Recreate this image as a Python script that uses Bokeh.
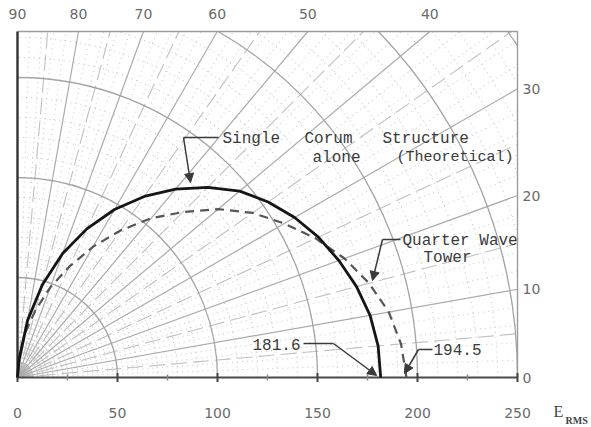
import numpy as np
from bokeh.plotting import figure
from bokeh.models import ColumnDataSource, LabelSet, Label, Arrow, NormalHead, Range1d
from bokeh.embed import file_html
from bokeh.resources import INLINE
from bokeh.core.properties import value

# ---- data (elevation angle in degrees, field E_RMS) ----
angles_deg = [0, 5, 10, 15, 20, 25, 30, 35, 40, 45, 50, 55, 60, 65, 70, 75, 80, 85, 90]
single_corum = [181.6, 181.0, 179.0, 175.5, 171.0, 166.0, 160.0, 153.0, 145.0, 134.5,
                123.0, 110.5, 97.0, 82.0, 66.0, 48.0, 29.0, 9.0, 0.0]
quarter_wave = [194.5, 192.5, 188.5, 182.0, 174.0, 164.5, 154.0, 143.5, 131.0, 117.0,
                104.0, 89.7, 75.5, 61.0, 48.0, 35.0, 23.0, 11.0, 0.0]

x_ticks = [0, 50, 100, 150, 200, 250]
x_minor_ticks = [25, 75, 125, 175, 225]
right_angle_ticks = [0, 10, 20, 30]
top_angle_ticks = [90, 80, 70, 60, 50, 40]
single_end = 181.6
quarter_end = 194.5

# paper (chart area) extent in data units
X_MAX = 250.0
Y_MAX = 173.0

# the frame covers the whole figure so that outer labels are not clipped
p = figure(width=591, height=427, x_range=Range1d(-8.5, 287.0), y_range=Range1d(-25.0, 188.5),
           output_backend="svg", toolbar_location=None,
           min_border=0, min_border_left=0, min_border_right=0,
           min_border_top=0, min_border_bottom=0)
p.axis.visible = False
p.grid.visible = False
p.outline_line_color = None
p.background_fill_color = "white"
p.border_fill_color = "white"

def ray_ends(angles):
    a = np.radians(np.asarray(angles, dtype=float))
    c, s = np.cos(a), np.sin(a)
    tx = np.where(c > 1e-9, X_MAX / np.where(c > 1e-9, c, 1), np.inf)
    ty = np.where(s > 1e-9, Y_MAX / np.where(s > 1e-9, s, 1), np.inf)
    t = np.minimum(tx, ty)
    return t * c, t * s

def arc_limits(radii):
    r = np.asarray(radii, dtype=float)
    lo = np.arccos(np.minimum(1.0, X_MAX / r))
    hi = np.arcsin(np.minimum(1.0, Y_MAX / r))
    return lo, hi

# ---- polar chart paper ----
fine_r = [r for r in range(10, 310, 10) if r % 50]
main_r = [50, 100, 150, 200, 250, 300]
lo, hi = arc_limits(fine_r)
p.arc(x=0, y=0, radius=fine_r, start_angle=lo, end_angle=hi,
      line_color="#c8c8c8", line_dash="1 4", line_width=1.1)
fine_a = [a for a in range(2, 90, 2) if a % 10]
ex, ey = ray_ends(fine_a)
p.segment(x0=0, y0=0, x1=ex, y1=ey, line_color="#cbcbcb", line_dash="1 4", line_width=1.1)
half_a = list(range(5, 90, 10))
ex, ey = ray_ends(half_a)
p.segment(x0=0, y0=0, x1=ex, y1=ey, line_color="#c0c0c0", line_dash="16 6", line_width=1.1)
main_a = list(range(10, 90, 10))
ex, ey = ray_ends(main_a)
p.segment(x0=0, y0=0, x1=ex, y1=ey, line_color="#ababab", line_width=1.2)
lo, hi = arc_limits(main_r)
p.arc(x=0, y=0, radius=main_r, start_angle=lo, end_angle=hi,
      line_color="#a4a4a4", line_width=1.3)

# frame of the paper
p.line([0, X_MAX, X_MAX], [Y_MAX, Y_MAX, 0], line_color="#9c9c9c", line_width=1.4)
p.line([0, 0], [0, Y_MAX], line_color="#333333", line_width=2.4)
p.line([0, X_MAX], [0, 0], line_color="#4a4a4a", line_width=1.8)
p.scatter(x=x_ticks, y=[0] * len(x_ticks), marker="dash", angle=90, angle_units="deg",
          size=9, line_color="#444444", line_width=2)
p.scatter(x=x_minor_ticks, y=[0] * len(x_minor_ticks), marker="dash", angle=90,
          angle_units="deg", size=6, line_color="#888888", line_width=1.5)

# ---- the two patterns ----
th = np.radians(angles_deg)
sc = np.array(single_corum)
qw = np.array(quarter_wave)
p.line(qw * np.cos(th), qw * np.sin(th), line_color="#555555", line_width=2.2, line_dash="9 6")
p.line(sc * np.cos(th), sc * np.sin(th), line_color="#151515", line_width=2.8)

# ---- tick labels ----
tick_font = value("DejaVu Sans")
tick_color = "#6a6a6a"
bottom_src = ColumnDataSource(dict(x=x_ticks, y=[-17.5] * len(x_ticks),
                                   t=[str(v) for v in x_ticks]))
p.add_layout(LabelSet(x="x", y="y", text="t", source=bottom_src, text_align="center",
                      text_baseline="middle", text_font=tick_font, text_font_size="14px",
                      text_color=tick_color))
right_src = ColumnDataSource(dict(x=[X_MAX + 2.5] * len(right_angle_ticks),
                                  y=[X_MAX * np.tan(np.radians(a)) for a in right_angle_ticks],
                                  t=[str(a) for a in right_angle_ticks]))
p.add_layout(LabelSet(x="x", y="y", text="t", source=right_src, text_align="left",
                      text_baseline="middle", text_font=tick_font, text_font_size="14px",
                      text_color=tick_color))
top_src = ColumnDataSource(dict(x=[Y_MAX / np.tan(np.radians(a)) for a in top_angle_ticks],
                                y=[Y_MAX + 9] * len(top_angle_ticks),
                                t=[str(a) for a in top_angle_ticks]))
p.add_layout(LabelSet(x="x", y="y", text="t", source=top_src, text_align="center",
                      text_baseline="middle", text_font=tick_font, text_font_size="14px",
                      text_color=tick_color))
p.add_layout(Label(x=268, y=-17, text="E", text_font="Liberation Serif", text_font_size="16px",
                   text_color="#444444", text_baseline="middle"))
p.add_layout(Label(x=274, y=-21.5, text="RMS", text_font="Liberation Serif",
                   text_font_size="10px", text_font_style="bold", text_color="#444444",
                   text_baseline="middle"))

# ---- annotations ----
mono = "Liberation Mono"
ink = "#3a3a3a"
def note(x, y, t, align="left", size="16px"):
    p.add_layout(Label(x=x, y=y, text=t, text_font=mono, text_font_size=size,
                       text_color=ink, text_baseline="middle", text_align=align))

note(102.5, 119.5, "Single")
note(143.5, 119.5, "Corum")
note(182.5, 119.5, "Structure")
note(147.5, 110, "alone")
note(189.5, 110, "(Theoretical)", size="15px")
note(192.5, 68.5, "Quarter Wave")
note(203, 60, "Tower")
note(141.5, 16.5, f"{single_end}", align="right")
note(208, 14, f"{quarter_end}")

def leader(pts):
    xs = [q[0] for q in pts]
    ys = [q[1] for q in pts]
    p.line(xs[:-1], ys[:-1], line_color=ink, line_width=1.5)
    p.add_layout(Arrow(end=NormalHead(size=9, fill_color=ink, line_color=ink),
                       x_start=xs[-2], y_start=ys[-2], x_end=xs[-1], y_end=ys[-1],
                       line_color=ink, line_width=1.5))

leader([(100.5, 120), (83, 120), (86.5, 97.5)])
leader([(191.5, 69), (182.5, 69), (177.5, 48.5)])
leader([(143, 17), (158, 17), (single_end - 2, 1)])
leader([(207.5, 14), (200.5, 14), (quarter_end - 1, 2)])

open("out.html", "w").write(file_html(p, INLINE))
